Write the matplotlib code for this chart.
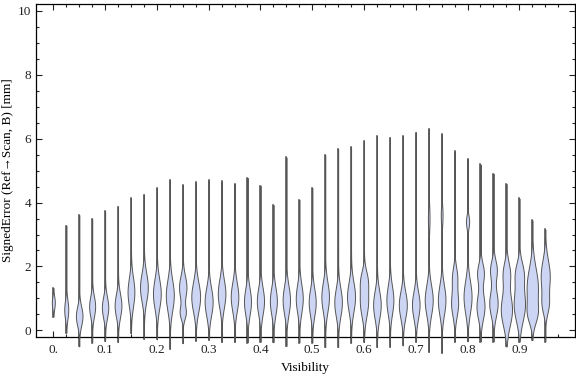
import numpy as np
import matplotlib.pyplot as plt

plt.rcParams['font.family'] = ['Liberation Serif', 'DejaVu Serif']

# violin positions (visibility bins)
positions = [0.0, 0.025, 0.05, 0.075, 0.1, 0.125, 0.15, 0.175, 0.2, 0.225,
             0.25, 0.275, 0.3, 0.325, 0.35, 0.375, 0.4, 0.425, 0.45, 0.475,
             0.5, 0.525, 0.55, 0.575, 0.6, 0.625, 0.65, 0.675, 0.7, 0.725,
             0.75, 0.775, 0.8, 0.825, 0.85, 0.875, 0.9, 0.925, 0.95]

# max / min signed error per bin
tops = [1.33, 3.28, 3.61, 3.49, 3.74, 3.87, 4.13, 4.25, 4.45, 4.70,
        4.54, 4.63, 4.69, 4.66, 4.59, 4.77, 4.53, 3.93, 5.41, 4.09,
        4.46, 5.49, 5.68, 5.74, 5.91, 6.08, 6.03, 6.08, 6.19, 6.31,
        6.13, 5.60, 5.36, 5.19, 4.90, 4.59, 4.13, 3.45, 3.16]
bottoms = [0.43, -0.07, -0.50, -0.38, -0.33, -0.36, -0.08, -0.26, -0.28, -0.57,
           -0.40, -0.32, -0.29, -0.36, -0.36, -0.38, -0.36, -0.37, -0.49, -0.38,
           -0.38, -0.52, -0.52, -0.38, -0.36, -0.52, -0.51, -0.47, -0.35, -0.67,
           -0.70, -0.35, -0.34, -0.35, -0.35, -0.50, -0.35, -0.30, -0.35]

# main mode of each distribution: centre, spread, half width (pixels)
peak_center = [0.87, 0.65, 0.45, 0.75, 0.72, 0.78, 1.20, 1.35, 1.15, 1.10,
               1.35, 1.05, 0.90, 1.15, 1.05, 0.90, 0.92, 0.92, 0.95, 1.00,
               0.88, 1.05, 0.88, 1.05, 0.88, 0.80, 0.95, 0.80, 0.80, 0.95,
               0.95, 0.85, 1.05, 0.75, 0.85, 0.65, 0.80, 1.35, 1.70]
peak_spread = [0.20, 0.30, 0.30, 0.32, 0.33, 0.36, 0.45, 0.44, 0.46, 0.48,
               0.36, 0.46, 0.44, 0.44, 0.44, 0.42, 0.42, 0.42, 0.44, 0.44,
               0.42, 0.46, 0.44, 0.46, 0.44, 0.44, 0.44, 0.42, 0.42, 0.46,
               0.46, 0.40, 0.50, 0.40, 0.40, 0.50, 0.50, 0.60, 0.50]
peak_width = [1.5, 2.0, 3.3, 3.0, 3.2, 3.4, 3.4, 3.9, 3.9, 4.0,
              3.7, 4.4, 4.0, 3.8, 3.8, 3.5, 3.6, 3.5, 3.7, 3.5,
              3.5, 3.8, 3.8, 4.0, 4.0, 3.8, 3.5, 4.0, 3.8, 4.0,
              3.8, 3.5, 4.0, 4.0, 4.2, 5.6, 5.6, 5.6, 4.5]

# secondary mode (width 0 = none)
second_center = [0, 0, 0, 0, 0, 0, 0, 0, 0, 0,
                 0.55, 0, 0, 0, 0, 0, 0, 0, 0, 0,
                 0, 0, 0, 0, 1.60, 0, 0, 0, 0, 3.50,
                 3.60, 1.70, 3.40, 1.80, 1.90, 1.80, 1.80, 0.50, 0.80]
second_spread = [1, 1, 1, 1, 1, 1, 1, 1, 1, 1,
                 0.20, 1, 1, 1, 1, 1, 1, 1, 1, 1,
                 1, 1, 1, 1, 0.30, 1, 1, 1, 1, 0.40,
                 0.30, 0.30, 0.20, 0.30, 0.30, 0.35, 0.35, 0.30, 0.30]
second_width = [0, 0, 0, 0, 0, 0, 0, 0, 0, 0,
                2.8, 0, 0, 0, 0, 0, 0, 0, 0, 0,
                0, 0, 0, 0, 2.8, 0, 0, 0, 0, 0.8,
                0.9, 2.3, 1.6, 3.3, 3.3, 3.4, 3.8, 3.3, 2.8]

fig = plt.figure(figsize=(5.76, 3.77), dpi=100)
ax = fig.add_axes([36 / 576, 40 / 377, 539 / 576, 333 / 377])

px = 1 / 517.8  # one pixel in x data units

for i, x in enumerate(positions):
    y = np.linspace(bottoms[i], tops[i], 500)
    hw = peak_width[i] * np.exp(-0.5 * ((y - peak_center[i]) / peak_spread[i]) ** 2)
    hw += second_width[i] * np.exp(-0.5 * ((y - second_center[i]) / second_spread[i]) ** 2)
    ax.plot([x, x], [bottoms[i], tops[i]], color='#474747', lw=1.1, clip_on=False, zorder=2)
    ax.fill_betweenx(y, x - hw * px, x + hw * px, facecolor='#cdd5f5',
                     edgecolor='#555555', lw=0.7, clip_on=False, zorder=3)

ax.set_xlim(-0.0334, 1.0075)
ax.set_ylim(-0.206, 10.21)

ax.set_xticks([0, 0.1, 0.2, 0.3, 0.4, 0.5, 0.6, 0.7, 0.8, 0.9])
ax.set_xticklabels(['0.', '0.1', '0.2', '0.3', '0.4', '0.5', '0.6', '0.7', '0.8', '0.9'])
ax.set_xticks(np.arange(0, 1.0, 0.025), minor=True)
ax.set_yticks([0, 2, 4, 6, 8, 10])
ax.set_yticks(np.arange(0, 10.01, 0.5), minor=True)

ax.tick_params(which='both', direction='in', top=True, right=True, labelsize=9.5,
               colors='#222222', width=0.8)
ax.tick_params(which='major', length=4)
ax.tick_params(which='minor', length=2.2)
ax.tick_params(axis='x', pad=5)

for s in ax.spines.values():
    s.set_linewidth(0.9)

ax.set_xlabel('Visibility', fontsize=9.5, va='center')
ax.xaxis.set_label_coords(0.499, -0.093)
ax.set_ylabel('SignedError (Ref→Scan, B) [mm]', fontsize=9.5, va='center')
ax.yaxis.set_label_coords(-0.052, 0.5)

fig.savefig('out.png', dpi=100)
